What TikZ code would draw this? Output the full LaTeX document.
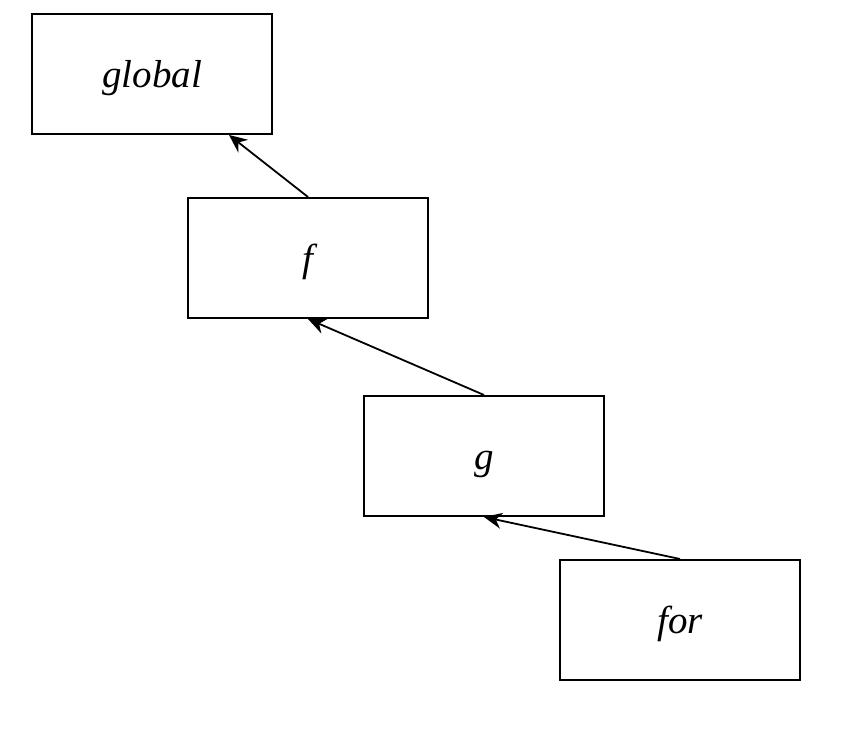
\documentclass[tikz,border=0pt]{standalone}
\usepackage{fontspec}
\setmainfont{Liberation Serif}
\usetikzlibrary{arrows.meta}
\begin{document}
\begin{tikzpicture}[x=1pt,y=1pt,
  box/.style={draw,line width=2pt,minimum width=240pt,minimum height=120pt,inner sep=0pt,
    text height=30pt,text depth=2pt,
    font=\fontsize{39}{46}\selectfont\itshape},
  link/.style={line width=1.8pt,-{Stealth[length=18pt,width=16pt,inset=6pt]}}]
\useasboundingbox (0,0) rectangle (847,734);
\node[box] (global) at (152,660) {global};
\node[box] (f) at (308,476) {f};
\node[box] (g) at (484,278) {g};
\node[box] (for) at (680,114) {for};
\draw[link] (f.north) -- ([xshift=-44pt]global.south east);
\draw[link] (g.north) -- (f.south);
\draw[link] (for.north) -- (g.south);
\end{tikzpicture}
\end{document}
